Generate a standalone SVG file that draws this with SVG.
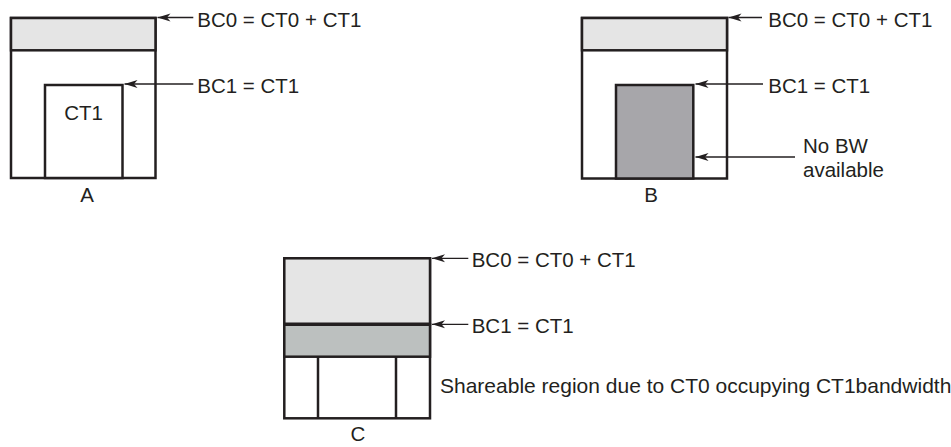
<svg xmlns="http://www.w3.org/2000/svg" width="951" height="447" viewBox="0 0 951 447">
<defs>
<style>
.box{fill:none;stroke:#231f20;stroke-width:2.5}
.band{fill:#e5e5e5;stroke:#231f20;stroke-width:2.5}
.w{fill:#ffffff;stroke:#231f20;stroke-width:2.5}
.conn{stroke:#231f20;stroke-width:1.3;fill:none;marker-end:url(#ah)}
text{font-family:"Liberation Sans",Arial,sans-serif;font-size:20.5px;fill:#231f20}
</style>
<marker id="ah" markerUnits="userSpaceOnUse" markerWidth="14" markerHeight="10" refX="13" refY="5" orient="auto" viewBox="0 0 14 10">
<path d="M0,1 L13,5 L0,9 L3.5,5 z" fill="#231f20"/>
</marker>
</defs>
<rect width="951" height="447" fill="#ffffff"/>

<g id="diagramA">
<rect class="w" x="11" y="18" width="144.5" height="160"/>
<rect class="band" x="11" y="18" width="144.5" height="32.3"/>
<rect class="w" x="45" y="85" width="77.5" height="93"/>
<text x="83.5" y="120" text-anchor="middle">CT1</text>
<text x="87" y="201.5" text-anchor="middle">A</text>
<text x="197.3" y="26.5">BC0 = CT0 + CT1</text>
<text x="197.3" y="92.5">BC1 = CT1</text>
</g>

<g id="diagramB">
<rect class="w" x="582" y="18" width="145" height="160.5"/>
<rect class="band" x="582" y="18" width="145" height="32.3"/>
<rect x="616" y="85" width="77.3" height="93.5" fill="#a7a6aa" stroke="#231f20" stroke-width="2.5"/>
<text x="651" y="201.5" text-anchor="middle">B</text>
<text x="768.3" y="26.5">BC0 = CT0 + CT1</text>
<text x="768.3" y="92.5">BC1 = CT1</text>
<text x="803" y="152.5">No BW</text>
<text x="803" y="176.5">available</text>
</g>

<g id="diagramC">
<rect class="w" x="284.3" y="258.3" width="145.7" height="160"/>
<rect class="band" x="284.3" y="258.3" width="145.7" height="66"/>
<rect x="284.3" y="324.3" width="145.7" height="32.4" fill="#bcc0bf" stroke="#231f20" stroke-width="2.5"/>
<line x1="284.3" y1="324.3" x2="430" y2="324.3" stroke="#231f20" stroke-width="3.5"/>
<line x1="318" y1="356.7" x2="318" y2="418.3" stroke="#231f20" stroke-width="2.5"/>
<line x1="396" y1="356.7" x2="396" y2="418.3" stroke="#231f20" stroke-width="2.5"/>
<text x="358" y="441" text-anchor="middle">C</text>
<text x="471.7" y="267">BC0 = CT0 + CT1</text>
<text x="471.7" y="333">BC1 = CT1</text>
<text x="440" y="393" style="font-size:21px">Shareable region due to CT0 occupying CT1bandwidth</text>
</g>

<g id="connectors">
<line class="conn" x1="193.3" y1="17.5" x2="157.5" y2="17.5"/>
<line class="conn" x1="193.3" y1="84" x2="124.5" y2="84"/>
<line class="conn" x1="762" y1="17.5" x2="728.5" y2="17.5"/>
<line class="conn" x1="763" y1="84" x2="695.5" y2="84"/>
<line class="conn" x1="795" y1="157" x2="695.5" y2="157"/>
<line class="conn" x1="468.3" y1="258.3" x2="432" y2="258.3"/>
<line class="conn" x1="468.3" y1="324.3" x2="432" y2="324.3"/>
</g>
</svg>
